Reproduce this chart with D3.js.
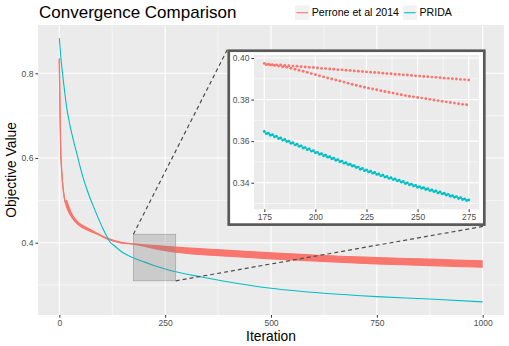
<!DOCTYPE html>
<html><head><meta charset="utf-8">
<script src="https://cdn.jsdelivr.net/npm/d3@7"></script>
<style>body{margin:0;background:#fff}svg{display:block;font-family:"Liberation Sans",Arial,sans-serif}</style>
</head><body>
<svg id="chart" width="509" height="346"></svg>
<script>
// ---------- data ----------
const seriesNames = ["Perrone et al 2014", "PRIDA"];
const seriesColors = ["#F8766D", "#00BFC4"];

// Perrone et al 2014 oscillates between two envelopes (drawn as a band)
const perroneIter  = [0, 4, 13, 16, 17, 20, 30, 45, 70, 92, 116, 147, 175, 200, 225, 250, 275, 400, 500, 660, 750, 875, 1000];
const perroneUpper = [0.835, 0.60, 0.50, 0.49, 0.50, 0.492, 0.467, 0.448, 0.433, 0.421, 0.4095, 0.401, 0.3974, 0.3952, 0.3933, 0.3914, 0.3894, 0.382, 0.376, 0.368, 0.365, 0.361, 0.357];
const perroneLower = [0.835, 0.60, 0.50, 0.49, 0.485, 0.477, 0.459, 0.442, 0.4285, 0.419, 0.4075, 0.399, 0.3968, 0.392, 0.3857, 0.381, 0.3775, 0.368, 0.362, 0.354, 0.350, 0.346, 0.342];

const pridaIter  = [0, 3, 7, 12, 17, 25, 41, 55, 68, 80, 92, 104, 116, 120, 128, 147, 175, 200, 225, 250, 275, 330, 390, 500, 625, 750, 875, 1000];
const pridaValue = [0.883, 0.845, 0.805, 0.762, 0.722, 0.678, 0.612, 0.558, 0.518, 0.487, 0.458, 0.431, 0.408, 0.401, 0.3945, 0.3788, 0.3643, 0.3547, 0.3458, 0.3381, 0.3314, 0.320, 0.309, 0.2923, 0.2805, 0.2726, 0.267, 0.2602];

// zoomed window (iterations 175..275), odd and even iterations
const insetOddIter  = d3.range(175, 276, 2);
const insetEvenIter = d3.range(176, 275, 2);
const perroneInsetOdd = [0.3974,0.3970,0.3968,0.3967,0.3966,0.3964,0.3963,0.3961,0.3960,0.3958,0.3957,0.3955,0.3954,0.3952,0.3950,0.3949,0.3947,0.3946,0.3944,0.3943,0.3941,0.3940,0.3938,0.3936,0.3935,0.3933,0.3932,0.3930,0.3929,0.3927,0.3925,0.3924,0.3922,0.3921,0.3919,0.3918,0.3916,0.3914,0.3913,0.3911,0.3910,0.3908,0.3907,0.3905,0.3903,0.3902,0.3900,0.3899,0.3897,0.3896,0.3894];
const perroneInsetEven = [0.3968,0.3966,0.3964,0.3961,0.3958,0.3955,0.3951,0.3946,0.3941,0.3936,0.3931,0.3925,0.3920,0.3914,0.3909,0.3904,0.3899,0.3894,0.3889,0.3884,0.3879,0.3874,0.3869,0.3864,0.3859,0.3855,0.3851,0.3847,0.3843,0.3839,0.3835,0.3831,0.3827,0.3823,0.3819,0.3816,0.3813,0.3810,0.3807,0.3804,0.3801,0.3798,0.3795,0.3792,0.3789,0.3786,0.3783,0.3780,0.3777,0.3775];
const pridaInsetOdd = [0.3646,0.3638,0.3631,0.3623,0.3615,0.3608,0.3600,0.3592,0.3585,0.3577,0.3569,0.3562,0.3554,0.3546,0.3539,0.3532,0.3525,0.3518,0.3511,0.3504,0.3496,0.3489,0.3482,0.3475,0.3468,0.3461,0.3455,0.3449,0.3442,0.3436,0.3430,0.3424,0.3418,0.3412,0.3406,0.3399,0.3393,0.3387,0.3381,0.3376,0.3371,0.3365,0.3360,0.3355,0.3349,0.3344,0.3338,0.3333,0.3328,0.3322,0.3317];
const pridaInsetEven = [0.3636,0.3628,0.3621,0.3613,0.3605,0.3598,0.3590,0.3582,0.3575,0.3567,0.3559,0.3552,0.3544,0.3537,0.3530,0.3523,0.3515,0.3508,0.3501,0.3494,0.3487,0.3480,0.3473,0.3465,0.3458,0.3452,0.3446,0.3440,0.3433,0.3427,0.3421,0.3415,0.3409,0.3403,0.3396,0.3390,0.3384,0.3378,0.3373,0.3367,0.3362,0.3357,0.3351,0.3346,0.3341,0.3335,0.3330,0.3324,0.3319,0.3314];

const xTicks = [0, 250, 500, 750, 1000];
const xMinor = [125, 375, 625, 875];
const yTicks = [0.4, 0.6, 0.8];
const yMinor = [0.3, 0.5, 0.7];
const insetXTicks = [175, 200, 225, 250, 275];
const insetXMinor = [187.5, 212.5, 237.5, 262.5];
const insetYTicks = [0.34, 0.36, 0.38, 0.40];
const insetYMinor = [0.33, 0.35, 0.37, 0.39];
const zoomWindow = {x: [175, 275], y: [0.31, 0.42]};
const insetPlace = {x: [397, 1007], y: [0.4395, 0.8565]};

// ---------- drawing ----------
const svg = d3.select("#chart");
const x = d3.scaleLinear().domain([0, 1000]).range([59.3, 482.7]);
const y = d3.scaleLinear().domain([0.4, 0.8]).range([242.7, 73.3]);
const px0 = x(-50), px1 = x(1050), py0 = 25, py1 = 315;
const tickCol = "#4D4D4D", axisCol = "#333333";

svg.append("rect").attr("x", px0).attr("y", py0).attr("width", px1 - px0).attr("height", py1 - py0).attr("fill", "#EBEBEB");
const g = svg.append("g");
xMinor.forEach(v => g.append("line").attr("x1", x(v)).attr("x2", x(v)).attr("y1", py0).attr("y2", py1).attr("stroke", "#fff").attr("stroke-width", 0.55));
yMinor.forEach(v => g.append("line").attr("y1", y(v)).attr("y2", y(v)).attr("x1", px0).attr("x2", px1).attr("stroke", "#fff").attr("stroke-width", 0.55));
xTicks.forEach(v => g.append("line").attr("x1", x(v)).attr("x2", x(v)).attr("y1", py0).attr("y2", py1).attr("stroke", "#fff").attr("stroke-width", 1.1));
yTicks.forEach(v => g.append("line").attr("y1", y(v)).attr("y2", y(v)).attr("x1", px0).attr("x2", px1).attr("stroke", "#fff").attr("stroke-width", 1.1));

// axes via d3 axis
const xAxis = svg.append("g").attr("transform", `translate(0,${py1})`)
  .call(d3.axisBottom(x).tickValues(xTicks).tickSize(2.7).tickPadding(2).tickFormat(d3.format("d")));
const yAxis = svg.append("g").attr("transform", `translate(${px0},0)`)
  .call(d3.axisLeft(y).tickValues(yTicks).tickSize(2.7).tickPadding(2).tickFormat(d3.format(".1f")));
[xAxis, yAxis].forEach(a => {
  a.select(".domain").remove();
  a.selectAll("line").attr("stroke", axisCol).attr("stroke-width", 1);
  a.selectAll("text").attr("fill", tickCol).style("font-size", "8.5px").style("font-family", "Liberation Sans, Arial, sans-serif");
});

// Perrone band
const perr = perroneIter.map((it, i) => ({it, hi: perroneUpper[i], lo: perroneLower[i]}));
g.append("path").datum(perr)
  .attr("d", d3.area().x(d => x(d.it)).y0(d => y(d.lo)).y1(d => y(d.hi)).curve(d3.curveMonotoneX))
  .attr("fill", seriesColors[0]);
["hi", "lo"].forEach(k => g.append("path").datum(perr)
  .attr("d", d3.line().x(d => x(d.it)).y(d => y(d[k])).curve(d3.curveMonotoneX))
  .attr("fill", "none").attr("stroke", seriesColors[0]).attr("stroke-width", 1.2));

// PRIDA line
g.append("path").datum(pridaIter.map((it, i) => ({it, v: pridaValue[i]})))
  .attr("d", d3.line().x(d => x(d.it)).y(d => y(d.v)).curve(d3.curveMonotoneX))
  .attr("fill", "none").attr("stroke", seriesColors[1]).attr("stroke-width", 1.1);

// zoom window rectangle
g.append("rect").attr("x", x(zoomWindow.x[0])).attr("y", y(zoomWindow.y[1]))
  .attr("width", x(zoomWindow.x[1]) - x(zoomWindow.x[0])).attr("height", y(zoomWindow.y[0]) - y(zoomWindow.y[1]))
  .attr("fill", "#808080").attr("fill-opacity", 0.3).attr("stroke", "#9a9a9a").attr("stroke-width", 0.6);

// dashed connectors
[[zoomWindow.x[0], zoomWindow.y[1], insetPlace.x[0], insetPlace.y[1]],
 [zoomWindow.x[1], zoomWindow.y[0], insetPlace.x[1], insetPlace.y[0]]].forEach(s =>
  g.append("line").attr("x1", x(s[0])).attr("y1", y(s[1])).attr("x2", x(s[2])).attr("y2", y(s[3]))
   .attr("stroke", "#4D4D4D").attr("stroke-width", 1.2).attr("stroke-dasharray", "4,3"));

// ---------- inset ----------
const bx0 = x(insetPlace.x[0]), bx1 = x(insetPlace.x[1]), by0 = y(insetPlace.y[1]), by1 = y(insetPlace.y[0]);
const ins = svg.append("g");
ins.append("rect").attr("x", bx0 + 1.35).attr("y", by0 + 1.35).attr("width", bx1 - bx0 - 2.7).attr("height", by1 - by0 - 2.7)
  .attr("fill", "#fff").attr("stroke", "#595959").attr("stroke-width", 2.7);
const ix = d3.scaleLinear().domain([175, 275]).range([264.3, 468.7]);
const iy = d3.scaleLinear().domain([0.34, 0.40]).range([182.7, 58]);
const ipx0 = ix(170), ipx1 = ix(280), ipy0 = iy(0.4014), ipy1 = iy(0.3272);
ins.append("rect").attr("x", ipx0).attr("y", ipy0).attr("width", ipx1 - ipx0).attr("height", ipy1 - ipy0).attr("fill", "#EBEBEB");
insetXMinor.forEach(v => ins.append("line").attr("x1", ix(v)).attr("x2", ix(v)).attr("y1", ipy0).attr("y2", ipy1).attr("stroke", "#fff").attr("stroke-width", 0.55));
insetYMinor.forEach(v => ins.append("line").attr("y1", iy(v)).attr("y2", iy(v)).attr("x1", ipx0).attr("x2", ipx1).attr("stroke", "#fff").attr("stroke-width", 0.55));
insetXTicks.forEach(v => ins.append("line").attr("x1", ix(v)).attr("x2", ix(v)).attr("y1", ipy0).attr("y2", ipy1).attr("stroke", "#fff").attr("stroke-width", 1.1));
insetYTicks.forEach(v => ins.append("line").attr("y1", iy(v)).attr("y2", iy(v)).attr("x1", ipx0).attr("x2", ipx1).attr("stroke", "#fff").attr("stroke-width", 1.1));
const ixAxis = ins.append("g").attr("transform", `translate(0,${ipy1})`)
  .call(d3.axisBottom(ix).tickValues(insetXTicks).tickSize(2.7).tickPadding(2).tickFormat(d3.format("d")));
const iyAxis = ins.append("g").attr("transform", `translate(${ipx0},0)`)
  .call(d3.axisLeft(iy).tickValues(insetYTicks).tickSize(2.7).tickPadding(2).tickFormat(d3.format(".2f")));
[ixAxis, iyAxis].forEach(a => {
  a.select(".domain").remove();
  a.selectAll("line").attr("stroke", axisCol).attr("stroke-width", 1);
  a.selectAll("text").attr("fill", tickCol).style("font-size", "8.5px").style("font-family", "Liberation Sans, Arial, sans-serif");
});
const pts = [
  [insetOddIter, perroneInsetOdd, 0], [insetEvenIter, perroneInsetEven, 0],
  [insetOddIter, pridaInsetOdd, 1], [insetEvenIter, pridaInsetEven, 1]];
pts.forEach(([its, vals, s]) => {
  ins.append("g").selectAll("circle").data(its.map((it, i) => ({it, v: vals[i]}))).join("circle")
    .attr("cx", d => ix(d.it)).attr("cy", d => iy(d.v)).attr("r", 1.45).attr("fill", seriesColors[s]);
});

// ---------- titles & legend ----------
svg.append("text").attr("x", 39).attr("y", 17.5).text("Convergence Comparison")
  .style("font-size", "17px").attr("fill", "#000");
svg.append("text").attr("x", (px0 + px1) / 2).attr("y", 341).attr("text-anchor", "middle").text("Iteration")
  .style("font-size", "13.8px").attr("fill", "#000");
svg.append("text").attr("transform", `translate(16,${(py0 + py1) / 2}) rotate(-90)`).attr("text-anchor", "middle")
  .text("Objective Value").style("font-size", "13.8px").attr("fill", "#000");

const legX = [295, 402.7];
seriesNames.forEach((n, i) => {
  const lg = svg.append("g").attr("transform", `translate(${legX[i]},5.5)`);
  lg.append("rect").attr("width", 14.4).attr("height", 14.4).attr("fill", "#F2F2F2");
  lg.append("line").attr("x1", 1.4).attr("x2", 13).attr("y1", 7.2).attr("y2", 7.2).attr("stroke", seriesColors[i]).attr("stroke-width", 1.1);
  lg.append("text").attr("x", 16.8).attr("y", 10.8).text(n).style("font-size", "10.6px").attr("fill", "#000");
});
</script>
</body></html>
